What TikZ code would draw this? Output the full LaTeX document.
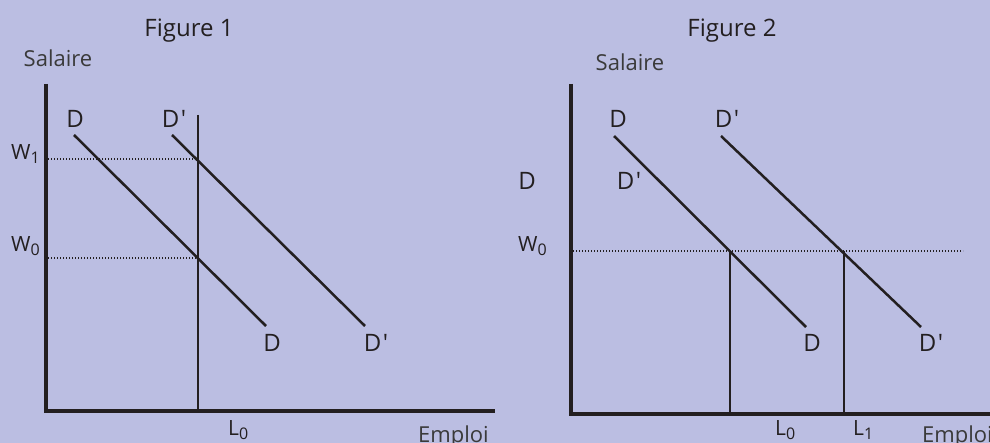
\documentclass[tikz,border=0pt]{standalone}
\usepackage{fontspec}
\setmainfont{Open Sans}
\usetikzlibrary{positioning}
\definecolor{panelbg}{RGB}{187,190,226}
\definecolor{inkdark}{HTML}{231F20}
\definecolor{axisgrey}{HTML}{3A3A3A}
\newcommand{\Dpr}{D\kern1.5pt\textquotesingle}
\newcommand{\lowsub}[1]{\raisebox{-4pt}{\fontsize{16}{16}\selectfont #1}}

\begin{document}
\begin{tikzpicture}[x=1pt,y=-1pt,
  font=\fontsize{24}{28}\selectfont,
  axis/.style={line width=3.4pt,draw=inkdark},
  demand/.style={line width=2.5pt,draw=inkdark},
  level/.style={line width=1.5pt,draw=inkdark},
  guide/.style={line width=1.1pt,draw=inkdark,dash pattern=on 1.1pt off 1.9pt},
  lbl/.style={text=inkdark,inner sep=0pt,anchor=base},
  axlbl/.style={text=axisgrey,inner sep=0pt,anchor=base,font=\fontsize{22}{26}\selectfont},
  wlbl/.style={text=inkdark,inner sep=0pt,anchor=base west,font=\fontsize{21}{24}\selectfont}]
  \fill[panelbg] (0,0) rectangle (990,443);
  \useasboundingbox (0,0) rectangle (990,443);
  \clip (0,0) rectangle (990,443);

  % Figure 1
  \node[lbl] (titleA) at (189,37) {Figure 1};
  \node[axlbl] (salA) at (58,67) {Salaire};
  \coordinate (topA) at (46,84);
  \coordinate (origA) at (46,411);
  \coordinate (endA) at (495,411);
  \draw[axis] (topA) -- (origA) -- (endA);
  \coordinate (dA1) at (74,135);   \coordinate (dA2) at (266,326);
  \coordinate (dpA1) at (172,135); \coordinate (dpA2) at (365,326);
  \draw[demand] (dA1) -- (dA2);
  \draw[demand] (dpA1) -- (dpA2);
  \coordinate (lzTop) at (198,115);
  \coordinate (lzBot) at (198,411);
  \draw[level] (lzTop) -- (lzBot);
  \coordinate (wA1) at (48,159); \coordinate (wA1r) at (198,159);
  \coordinate (wA0) at (48,258); \coordinate (wA0r) at (198,258);
  \draw[guide] (wA1) -- (wA1r);
  \draw[guide] (wA0) -- (wA0r);
  \node[lbl] (dAtop) at (75,128) {D};
  \node[lbl] (dpAtop) at (174,128) {\Dpr};
  \node[lbl] (dAbot) at (272,352) {D};
  \node[lbl] (dpAbot) at (376,352) {\Dpr};
  \node[wlbl] (wOneA) at (11,160) {W\lowsub{1}};
  \node[wlbl] (wZeroA) at (11,252) {W\lowsub{0}};
  \node[wlbl] (lZeroA) at (228,435) {L\lowsub{0}};
  \node[axlbl,anchor=base west] (empA) at (418,442) {Emploi};

  % Figure 2
  \node[lbl] (titleB) at (732,37) {Figure 2};
  \node[axlbl] (salB) at (630,71) {Salaire};
  \coordinate (topB) at (571,84);
  \coordinate (origB) at (571,414);
  \coordinate (endB) at (995,414);
  \draw[axis] (topB) -- (origB) -- (endB);
  \coordinate (dB1) at (614,136);  \coordinate (dB2) at (806,327);
  \coordinate (dpB1) at (721,136); \coordinate (dpB2) at (921,327);
  \draw[demand] (dB1) -- (dB2);
  \draw[demand] (dpB1) -- (dpB2);
  \coordinate (wB0) at (573,251); \coordinate (wB0r) at (963,251);
  \draw[guide] (wB0) -- (wB0r);
  \coordinate (lzB) at (730,251); \coordinate (lzBbot) at (730,414);
  \coordinate (loB) at (844,251); \coordinate (loBbot) at (844,414);
  \draw[level] (lzB) -- (lzBbot);
  \draw[level] (loB) -- (loBbot);
  \node[lbl] (dBtop) at (618,128) {D};
  \node[lbl] (dpBtop) at (727,128) {\Dpr};
  \node[lbl] (dBleft) at (527,190) {D};
  \node[lbl] (dpBmid) at (629,190) {\Dpr};
  \node[lbl] (dBbot) at (812,352) {D};
  \node[lbl] (dpBbot) at (931,352) {\Dpr};
  \node[wlbl] (wZeroB) at (518,252) {W\lowsub{0}};
  \node[wlbl] (lZeroB) at (775,435) {L\lowsub{0}};
  \node[wlbl] (lOneB) at (853,435) {L\lowsub{1}};
  \node[axlbl,anchor=base west] (empB) at (922,442) {Emploi};
\end{tikzpicture}
\end{document}
